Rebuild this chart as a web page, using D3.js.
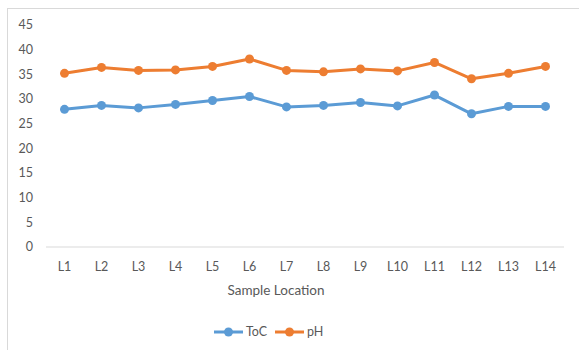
<!DOCTYPE html>
<html><head><meta charset="utf-8">
<script src="https://cdn.jsdelivr.net/npm/d3@7"></script>
<style>body{margin:0;background:#fff}svg{display:block;font-family:Lato,"Open Sans",sans-serif}</style>
</head><body><svg id="c" width="579" height="350"></svg>
<script>
const categories = ["L1","L2","L3","L4","L5","L6","L7","L8","L9","L10","L11","L12","L13","L14"];
const tocValues = [27.9,28.7,28.2,28.9,29.7,30.5,28.4,28.7,29.3,28.6,30.8,27.0,28.5,28.5];
const phValues  = [35.2,36.4,35.8,35.9,36.6,38.1,35.8,35.5,36.1,35.7,37.4,34.1,35.2,36.6];
const yTicks = [0,5,10,15,20,25,30,35,40,45];
const seriesNames = ["ToC","pH"];
const colors = ["#5B9BD5","#ED7D31"];

const svg = d3.select("#c");
svg.append("rect").attr("x",7.5).attr("y",8.5).attr("width",700).attr("height",500)
  .attr("fill","#fff").attr("stroke","#d9d9d9");

const x = d3.scalePoint().domain(categories).range([46,564]).padding(0.5);
const y = d3.scaleLinear().domain([0,45]).range([247,25]);

// y axis labels
svg.append("g").selectAll("text").data(yTicks).join("text")
  .attr("x",33).attr("y",d=>y(d)).attr("dy","0.35em").attr("text-anchor","end")
  .attr("font-size",12.5).attr("fill","#595959").text(d=>d);

// baseline
svg.append("line").attr("x1",46).attr("x2",564).attr("y1",y(0)).attr("y2",y(0))
  .attr("stroke","#d9d9d9").attr("stroke-width",1);

// x labels
svg.append("g").selectAll("text").data(categories).join("text")
  .attr("x",d=>x(d)).attr("y",267).attr("dy","0.35em").attr("text-anchor","middle")
  .attr("font-size",12.5).attr("fill","#595959").text(d=>d);

svg.append("text").attr("x",276).attr("y",290).attr("dy","0.35em").attr("text-anchor","middle")
  .attr("font-size",13.5).attr("fill","#595959").text("Sample Location");

const data = [tocValues, phValues];
const line = d3.line().x((d,i)=>x(categories[i])).y(d=>y(d));
data.forEach((vals,si)=>{
  svg.append("path").datum(vals).attr("d",line).attr("fill","none")
    .attr("stroke",colors[si]).attr("stroke-width",3).attr("stroke-linejoin","round");
  svg.append("g").selectAll("circle").data(vals).join("circle")
    .attr("cx",(d,i)=>x(categories[i])).attr("cy",d=>y(d)).attr("r",4.5)
    .attr("fill",colors[si]);
});

// legend
const legend = [{x1:214,x2:243,tx:246},{x1:275,x2:304,tx:307}];
legend.forEach((l,i)=>{
  const g = svg.append("g");
  g.append("line").attr("x1",l.x1).attr("x2",l.x2).attr("y1",332).attr("y2",332)
    .attr("stroke",colors[i]).attr("stroke-width",3);
  g.append("circle").attr("cx",(l.x1+l.x2)/2).attr("cy",332).attr("r",4.5).attr("fill",colors[i]);
  g.append("text").attr("x",l.tx).attr("y",332).attr("dy","0.35em")
    .attr("font-size",12.5).attr("fill","#595959").text(seriesNames[i]);
});
</script></body></html>
